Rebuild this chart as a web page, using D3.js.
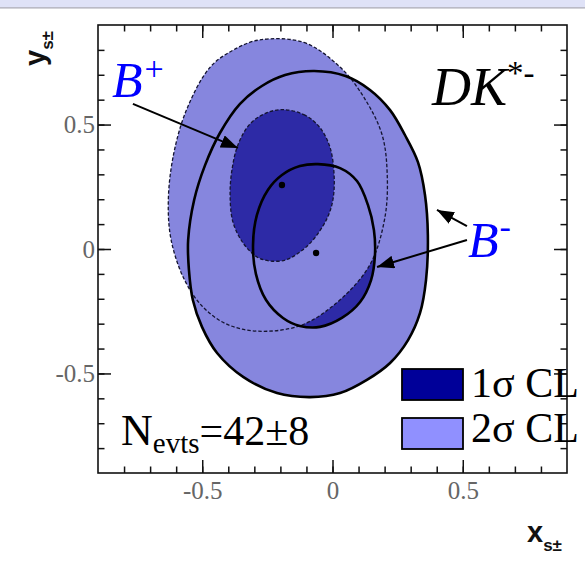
<!DOCTYPE html>
<html>
<head>
<meta charset="utf-8">
<script src="https://cdn.jsdelivr.net/npm/d3@7"></script>
<style>
  body { margin: 0; background: #fff; }
  svg { display: block; }
</style>
</head>
<body>
<svg id="chart" width="585" height="564"></svg>
<script>
// Axis ticks
const majorTicks = [-0.5, 0, 0.5];
const minorTicks = [-0.8, -0.7, -0.6, -0.5, -0.4, -0.3, -0.2, -0.1, 0, 0.1, 0.2, 0.3, 0.4, 0.5, 0.6, 0.7, 0.8];
const tickLabels = ["-0.5", "0", "0.5"];

// Confidence-level contours in (x_s±, y_s±)
// B+ 2σ (dashed outline)
const bPlus2 = [
  [-0.28, 0.84], [-0.11, 0.83], [0.03, 0.73], [0.12, 0.61], [0.19, 0.46], [0.21, 0.30],
  [0.20, 0.12], [0.14, -0.07], [0.00, -0.23], [-0.13, -0.31], [-0.29, -0.33], [-0.41, -0.30],
  [-0.50, -0.23], [-0.57, -0.12], [-0.62, 0.04], [-0.63, 0.20], [-0.61, 0.38], [-0.56, 0.56],
  [-0.47, 0.73], [-0.38, 0.80]
];
// B+ 1σ (dashed outline)
const bPlus1 = [
  [-0.19, 0.56], [-0.11, 0.54], [-0.05, 0.49], [-0.01, 0.41], [0.006, 0.30], [0.002, 0.20],
  [-0.02, 0.125], [-0.075, 0.036], [-0.125, -0.012], [-0.18, -0.044], [-0.24, -0.048],
  [-0.29, -0.032], [-0.343, 0.024], [-0.382, 0.108], [-0.393, 0.217], [-0.386, 0.317],
  [-0.363, 0.418], [-0.317, 0.502], [-0.255, 0.546]
];
// B- 2σ (solid outline)
const bMinus2 = [
  [-0.07, 0.715], [0.05, 0.695], [0.144, 0.639], [0.221, 0.558], [0.278, 0.458], [0.328, 0.349],
  [0.355, 0.217], [0.366, 0.056], [0.359, -0.124], [0.336, -0.257], [0.29, -0.366], [0.221, -0.458],
  [0.132, -0.526], [0.029, -0.579], [-0.086, -0.595], [-0.213, -0.579], [-0.343, -0.514],
  [-0.443, -0.418], [-0.501, -0.313], [-0.536, -0.205], [-0.551, -0.084], [-0.554, 0.036],
  [-0.531, 0.197], [-0.489, 0.337], [-0.432, 0.466], [-0.355, 0.583], [-0.271, 0.655], [-0.182, 0.699]
];
// B- 1σ (solid outline)
const bMinus1 = [
  [-0.056, 0.341], [0.029, 0.325], [0.094, 0.273], [0.136, 0.177], [0.159, 0.076], [0.163, -0.024],
  [0.148, -0.125], [0.106, -0.213], [0.036, -0.277], [-0.048, -0.313], [-0.125, -0.309],
  [-0.19, -0.277], [-0.255, -0.205], [-0.294, -0.10], [-0.305, 0.016], [-0.29, 0.137],
  [-0.248, 0.237], [-0.194, 0.297], [-0.125, 0.333]
];
// Best-fit points
const centres = [[-0.194, 0.257], [-0.063, -0.016]];

// Annotation arrows [from, to]
const arrows = [
  [[-0.766, 0.583], [-0.363, 0.406]],
  [[0.516, 0.036], [0.171, -0.072]],
  [[0.516, 0.092], [0.401, 0.157]]
];

const legendItems = ["1σ CL", "2σ CL"];

const svg = d3.select("#chart");
const W = 585, H = 564;
const pLeft = 98, pRight = 567, pTop = 25, pBottom = 473;

const x = d3.scaleLinear().domain([-0.9, 0.9]).range([pLeft, pRight]);
const y = d3.scaleLinear().domain([-0.9, 0.9]).range([pBottom, pTop]);

const light = "#8686de", dark = "#2d2aa6";
const legendDark = "#000099", legendLight = "#9090ff";

// Window strip at the very top
svg.append("rect").attr("x", 0).attr("y", 0).attr("width", W).attr("height", 7.5).attr("fill", "#dfe2f7");
svg.append("line").attr("x1", 0).attr("x2", W).attr("y1", 7.8).attr("y2", 7.8).attr("stroke", "#a8a8b4").attr("stroke-width", 1.3);

const line = d3.line().x(d => x(d[0])).y(d => y(d[1])).curve(d3.curveCatmullRomClosed.alpha(0.5));

const defs = svg.append("defs");
defs.append("clipPath").attr("id", "clip")
  .append("rect").attr("x", pLeft).attr("y", pTop).attr("width", pRight - pLeft).attr("height", pBottom - pTop);
const area = svg.append("g").attr("clip-path", "url(#clip)");

// Fills: B- first, then B+ on top
area.append("path").attr("d", line(bMinus2)).attr("fill", light);
area.append("path").attr("d", line(bMinus1)).attr("fill", dark);
area.append("path").attr("d", line(bPlus2)).attr("fill", light);
area.append("path").attr("d", line(bPlus1)).attr("fill", dark);

// Outlines
area.append("path").attr("d", line(bPlus2)).attr("fill", "none")
  .attr("stroke", "#141430").attr("stroke-width", 1.3).attr("stroke-dasharray", "3.5,2");
area.append("path").attr("d", line(bPlus1)).attr("fill", "none")
  .attr("stroke", "#141430").attr("stroke-width", 1.3).attr("stroke-dasharray", "3.5,2");
area.append("path").attr("d", line(bMinus2)).attr("fill", "none")
  .attr("stroke", "#000").attr("stroke-width", 2.6);
area.append("path").attr("d", line(bMinus1)).attr("fill", "none")
  .attr("stroke", "#000").attr("stroke-width", 2.6);

area.selectAll("circle.c").data(centres).join("circle")
  .attr("cx", d => x(d[0])).attr("cy", d => y(d[1])).attr("r", 3.2).attr("fill", "#000");

// Axes with inward ticks on all four sides
function styleAxis(g) {
  g.select(".domain").remove();
  g.selectAll(".tick line").attr("stroke", "#111").attr("stroke-width", 1.5);
  g.selectAll(".tick text").attr("fill", "#666")
    .style("font-family", "'Liberation Serif', 'Times New Roman', serif").style("font-size", "25px");
}
const fmt = d => tickLabels[majorTicks.indexOf(d)];

svg.append("g").attr("transform", `translate(0,${pBottom})`)
  .call(d3.axisBottom(x).tickValues(minorTicks).tickSize(-6.5).tickFormat("")).call(styleAxis);
svg.append("g").attr("transform", `translate(0,${pBottom})`)
  .call(d3.axisBottom(x).tickValues(majorTicks).tickSize(-13).tickPadding(8).tickFormat(fmt)).call(styleAxis);
svg.append("g").attr("transform", `translate(0,${pTop})`)
  .call(d3.axisTop(x).tickValues(minorTicks).tickSize(-6.5).tickFormat("")).call(styleAxis);
svg.append("g").attr("transform", `translate(0,${pTop})`)
  .call(d3.axisTop(x).tickValues(majorTicks).tickSize(-13).tickFormat("")).call(styleAxis);
svg.append("g").attr("transform", `translate(${pLeft},0)`)
  .call(d3.axisLeft(y).tickValues(minorTicks).tickSize(-6.5).tickFormat("")).call(styleAxis);
svg.append("g").attr("transform", `translate(${pLeft},0)`)
  .call(d3.axisLeft(y).tickValues(majorTicks).tickSize(-13).tickPadding(3).tickFormat(fmt)).call(styleAxis);
svg.append("g").attr("transform", `translate(${pRight},0)`)
  .call(d3.axisRight(y).tickValues(minorTicks).tickSize(-6.5).tickFormat("")).call(styleAxis);
svg.append("g").attr("transform", `translate(${pRight},0)`)
  .call(d3.axisRight(y).tickValues(majorTicks).tickSize(-13).tickFormat("")).call(styleAxis);

svg.append("rect").attr("x", pLeft).attr("y", pTop).attr("width", pRight - pLeft).attr("height", pBottom - pTop)
  .attr("fill", "none").attr("stroke", "#111").attr("stroke-width", 1.6);

// Axis titles
const sans = "'Liberation Sans', Arial, sans-serif";
const serif = "'Liberation Serif', 'Times New Roman', serif";
const xt = svg.append("text").attr("x", 527).attr("y", 542).attr("font-family", sans).attr("font-weight", "bold").attr("fill", "#111");
xt.append("tspan").attr("font-size", 29).text("x");
xt.append("tspan").attr("font-size", 17).attr("dy", 9).text("s±");

const yt = svg.append("text").attr("transform", "translate(45,66) rotate(-90)")
  .attr("font-family", sans).attr("font-weight", "bold").attr("fill", "#111");
yt.append("tspan").attr("font-size", 29).text("y");
yt.append("tspan").attr("font-size", 17).attr("dy", 8).text("s±");

// Arrows
defs.append("marker").attr("id", "head").attr("viewBox", "0 0 17 13")
  .attr("markerWidth", 17).attr("markerHeight", 13).attr("refX", 17).attr("refY", 6.5)
  .attr("markerUnits", "userSpaceOnUse").attr("orient", "auto")
  .append("path").attr("d", "M0,0 L17,6.5 L0,13 Z").attr("fill", "#000");
svg.selectAll("line.arrow").data(arrows).join("line").attr("class", "arrow")
  .attr("x1", d => x(d[0][0])).attr("y1", d => y(d[0][1]))
  .attr("x2", d => x(d[1][0])).attr("y2", d => y(d[1][1]))
  .attr("stroke", "#000").attr("stroke-width", 2).attr("marker-end", "url(#head)");

// Labels
const bp = svg.append("text").attr("x", 112).attr("y", 97).attr("fill", "#0000ff").attr("font-family", serif);
bp.append("tspan").attr("font-size", 50).attr("font-style", "italic").text("B");
bp.append("tspan").attr("font-size", 34).attr("dy", -17).attr("dx", 2).text("+");

const bm = svg.append("text").attr("x", 468).attr("y", 257).attr("fill", "#0000ff").attr("font-family", serif);
bm.append("tspan").attr("font-size", 50).attr("font-style", "italic").text("B");
bm.append("tspan").attr("font-size", 34).attr("dy", -19).attr("dx", 1).text("-");

const dk = svg.append("text").attr("x", 432).attr("y", 105).attr("fill", "#000").attr("font-family", serif);
dk.append("tspan").attr("font-size", 54).attr("font-style", "italic").text("DK");
dk.append("tspan").attr("font-size", 33).attr("dy", -21).text("*-");

const nev = svg.append("text").attr("x", 121).attr("y", 445).attr("fill", "#000").attr("font-family", serif);
nev.append("tspan").attr("font-size", 44).text("N");
nev.append("tspan").attr("font-size", 29).attr("dy", 8).text("evts");
nev.append("tspan").attr("font-size", 42).attr("dy", -8).text("=42±8");

// Legend
const lg = svg.append("g");
lg.selectAll("rect").data(legendItems).join("rect")
  .attr("x", 402).attr("y", (d, i) => 369 + i * 49).attr("width", 61).attr("height", 31)
  .attr("fill", (d, i) => i === 0 ? legendDark : legendLight).attr("stroke", "#000").attr("stroke-width", 1.8);
lg.selectAll("text").data(legendItems).join("text")
  .attr("x", 471).attr("y", (d, i) => 397 + i * 45)
  .attr("font-family", serif).attr("font-size", 42).attr("fill", "#000").text(d => d);
</script>
</body>
</html>
